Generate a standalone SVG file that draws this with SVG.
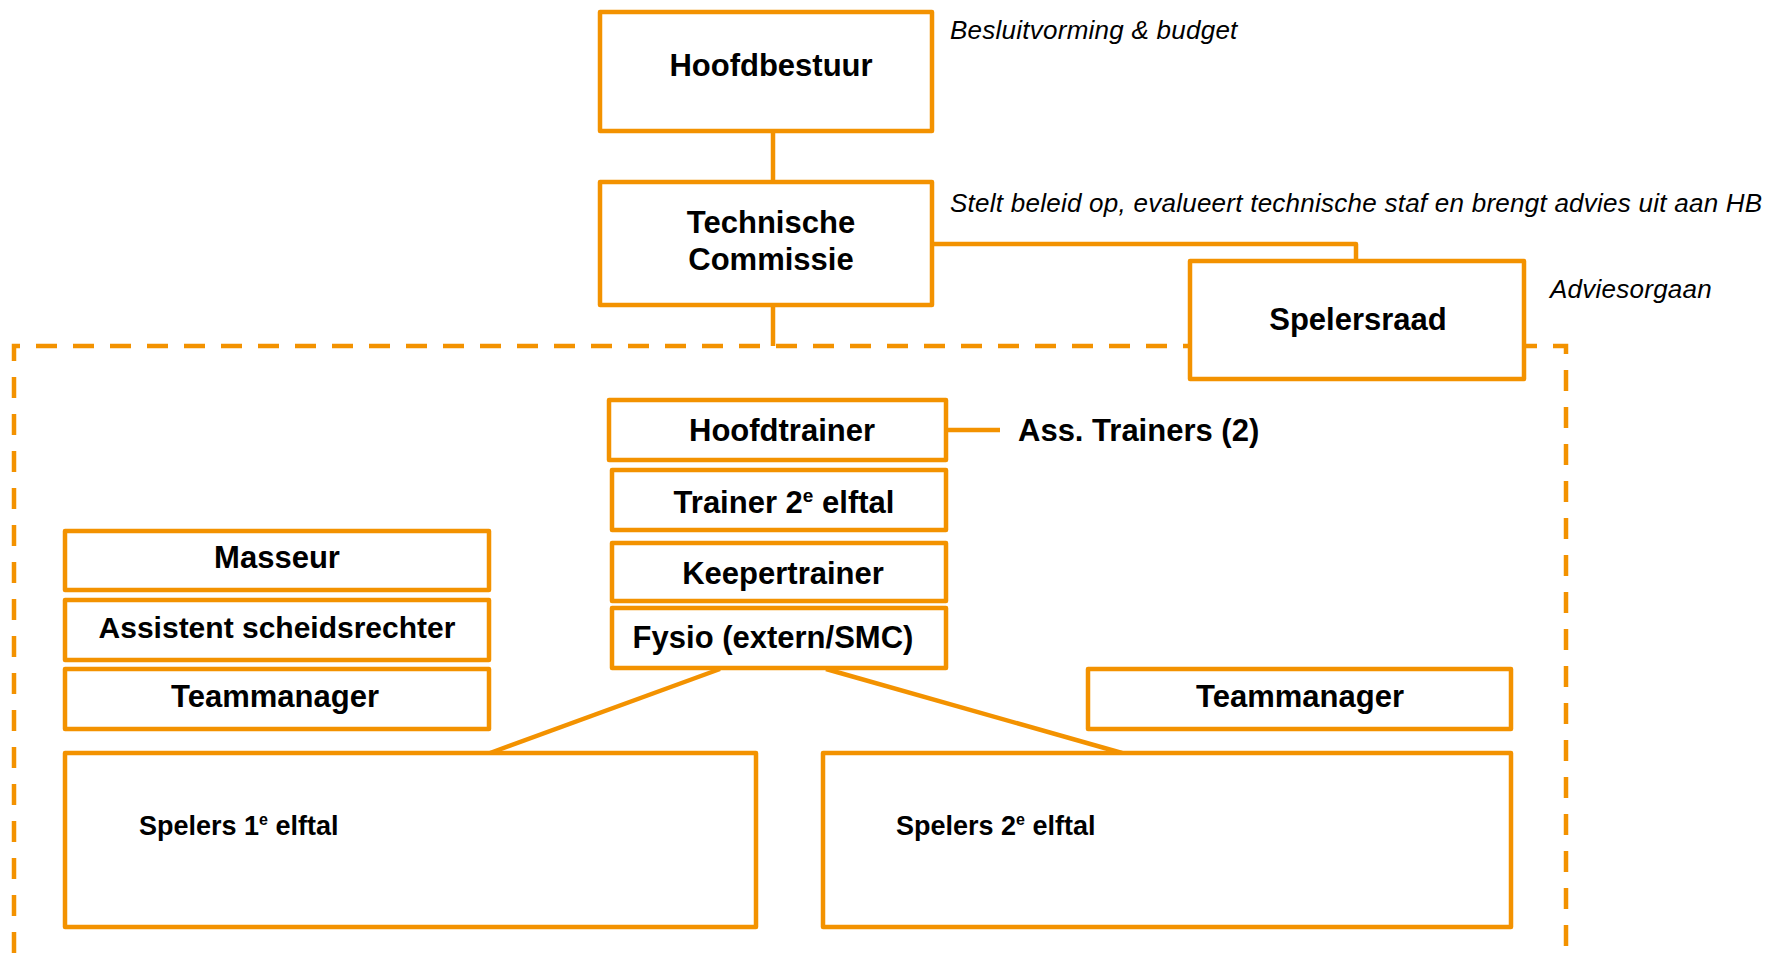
<svg xmlns="http://www.w3.org/2000/svg" width="1781" height="953" viewBox="0 0 1781 953">
<style>
.box{fill:#fff;stroke:#F39200;stroke-width:4.5;stroke-linejoin:round}
.ln{fill:none;stroke:#F39200;stroke-width:4.5;stroke-linejoin:round}
.dash{fill:none;stroke:#F39200;stroke-width:4.5;stroke-dasharray:21 16}
.b{font-family:"Liberation Sans",Arial,sans-serif;font-weight:bold;font-size:31px;fill:#000}
.s{font-family:"Liberation Sans",Arial,sans-serif;font-weight:bold;font-size:27px;fill:#000}
.i{font-family:"Liberation Sans",Arial,sans-serif;font-style:italic;font-size:26px;fill:#000;letter-spacing:0.25px}
.c{text-anchor:middle}
</style>
<rect width="1781" height="953" fill="#fff"/>
<g id="container">
<path class="dash" d="M14 953 L14 346 L1566 346 L1566 953"/>
</g>
<g id="connectors">
<line class="ln" x1="773" y1="131" x2="773" y2="182"/>
<line class="ln" x1="773" y1="305" x2="773" y2="346"/>
<polyline class="ln" points="932,244 1356,244 1356,261"/>
<line class="ln" x1="946" y1="430" x2="1000" y2="430"/>
<line class="ln" x1="720" y1="669" x2="490" y2="753"/>
<line class="ln" x1="826" y1="669" x2="1122" y2="753"/>
</g>
<g id="hoofdbestuur">
<rect class="box" x="600" y="12" width="332" height="119"/>
<text class="b c" x="771" y="76">Hoofdbestuur</text>
</g>
<text class="i" x="950" y="39">Besluitvorming &amp; budget</text>
<g id="technische-commissie">
<rect class="box" x="600" y="182" width="332" height="123"/>
<text class="b c" x="771" y="233">Technische</text>
<text class="b c" x="771" y="270">Commissie</text>
</g>
<text class="i" x="950" y="212">Stelt beleid op, evalueert technische staf en brengt advies uit aan HB</text>
<g id="spelersraad">
<rect class="box" x="1190" y="261" width="334" height="118"/>
<text class="b c" x="1358" y="330">Spelersraad</text>
</g>
<text class="i" x="1550" y="298">Adviesorgaan</text>
<g id="hoofdtrainer">
<rect class="box" x="609" y="400" width="337" height="60"/>
<text class="b c" x="782" y="441">Hoofdtrainer</text>
</g>
<g id="ass-trainers">
<text class="b" x="1018" y="441">Ass. Trainers (2)</text>
</g>
<g id="trainer-2e">
<rect class="box" x="612" y="470" width="334" height="60"/>
<text class="b c" x="784" y="513">Trainer 2<tspan font-size="19" dy="-11">e</tspan><tspan dy="11"> elftal</tspan></text>
</g>
<g id="keepertrainer">
<rect class="box" x="612" y="543" width="334" height="58"/>
<text class="b c" x="783" y="584">Keepertrainer</text>
</g>
<g id="fysio">
<rect class="box" x="612" y="608" width="334" height="60"/>
<text class="b c" x="773" y="648">Fysio (extern/SMC)</text>
</g>
<g id="masseur">
<rect class="box" x="65" y="531" width="424" height="59"/>
<text class="b c" x="277" y="568">Masseur</text>
</g>
<g id="assistent-scheidsrechter">
<rect class="box" x="65" y="600" width="424" height="60"/>
<text class="b c" x="277" y="638" style="font-size:30px">Assistent scheidsrechter</text>
</g>
<g id="teammanager-1">
<rect class="box" x="65" y="669" width="424" height="60"/>
<text class="b c" x="275" y="707">Teammanager</text>
</g>
<g id="teammanager-2">
<rect class="box" x="1088" y="669" width="423" height="60"/>
<text class="b c" x="1300" y="707">Teammanager</text>
</g>
<g id="spelers-1e">
<rect class="box" x="65" y="753" width="691" height="174"/>
<text class="s" x="139" y="835">Spelers 1<tspan font-size="16" dy="-10">e</tspan><tspan dy="10"> elftal</tspan></text>
</g>
<g id="spelers-2e">
<rect class="box" x="823" y="753" width="688" height="174"/>
<text class="s" x="896" y="835">Spelers 2<tspan font-size="16" dy="-10">e</tspan><tspan dy="10"> elftal</tspan></text>
</g>
</svg>
